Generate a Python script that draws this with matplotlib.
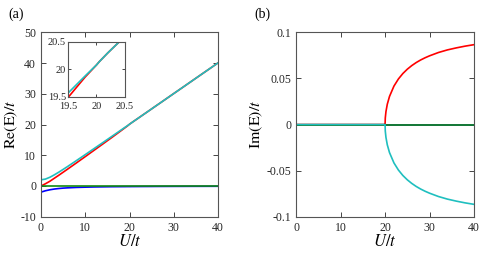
import numpy as np
import matplotlib
matplotlib.use('Agg')
import matplotlib.pyplot as plt

plt.rcParams['font.family'] = ['Liberation Serif', 'DejaVu Serif']
plt.rcParams['mathtext.fontset'] = 'stix'
plt.rcParams['axes.unicode_minus'] = False

# U/t 取样点
U = [0, 1, 2, 3, 4, 5, 6, 8, 10, 12, 14, 16, 18, 19, 19.5, 19.8, 20,
     20.05, 20.2, 20.5, 21, 22, 23, 24, 25, 26, 27, 28, 29, 30, 32, 34, 36, 38, 40]

# 实部
re_cyan = [2.0, 2.24, 2.83, 3.61, 4.47, 5.39, 6.32, 8.25, 10.2, 12.17, 14.14, 16.12,
           18.11, 19.1, 19.57, 19.88, 20.08,
           20.14, 20.3, 20.6, 21.1, 22.09, 23.09, 24.08, 25.08, 26.08, 27.07, 28.07,
           29.07, 30.07, 32.06, 34.06, 36.06, 38.05, 40.05]
re_red = [0.0, 0.72, 1.53, 2.5, 3.47, 4.47, 5.47, 7.5, 9.55, 11.62, 13.69, 15.77,
          17.89, 18.96, 19.49, 19.86, 20.08,
          20.14, 20.3, 20.6, 21.1, 22.09, 23.09, 24.08, 25.08, 26.08, 27.07, 28.07,
          29.07, 30.07, 32.06, 34.06, 36.06, 38.05, 40.05]
re_blue = [-2.0, -1.56, -1.24, -1.0, -0.83, -0.70, -0.61, -0.47, -0.39, -0.32, -0.28, -0.24,
           -0.22, -0.21, -0.2, -0.2, -0.2,
           -0.2, -0.2, -0.19, -0.19, -0.18, -0.17, -0.165, -0.16, -0.15, -0.145, -0.14,
           -0.135, -0.13, -0.125, -0.115, -0.11, -0.105, -0.1]
re_green = [0.0] * len(U)

# 虚部
im_red = [0, 0, 0, 0, 0, 0, 0, 0, 0, 0, 0, 0, 0, 0, 0, 0, 0,
          0.0071, 0.014, 0.022, 0.0305, 0.0417, 0.0494, 0.0553, 0.06, 0.0639, 0.0672,
          0.07, 0.0724, 0.0745, 0.0781, 0.0809, 0.0831, 0.085, 0.0866]
im_cyan = [-v for v in im_red]
im_blue = [0.0] * len(U)
im_green = [0.0] * len(U)

c_blue = '#0000ff'
c_red = '#ff0000'
c_green = '#128a12'
c_cyan = '#1fbfbf'
lw = 1.2


def style(ax, size=8.5):
    ax.tick_params(direction='in', top=True, right=True, length=3.5, width=0.6,
                   labelsize=size, colors='#262626')
    for s in ax.spines.values():
        s.set_color('#555555')
        s.set_linewidth(0.8)


fig = plt.figure(figsize=(4.91, 2.56), dpi=100)

# (a) 实部
ax1 = fig.add_axes([0.0835, 0.1535, 0.3605, 0.7203])
ax1.plot(U, re_blue, color=c_blue, lw=lw)
ax1.plot(U, re_red, color=c_red, lw=lw)
ax1.plot(U, re_green, color=c_green, lw=lw)
ax1.plot(U, re_cyan, color=c_cyan, lw=lw)
ax1.set_xlim(0, 40)
ax1.set_ylim(-10, 50)
ax1.set_xticks([0, 10, 20, 30, 40])
ax1.set_yticks([-10, 0, 10, 20, 30, 40, 50])
ax1.set_xlabel(r'$U/t$', fontsize=12, labelpad=0)
ax1.set_ylabel(r'$\mathrm{Re(E)}/t$', fontsize=11.5, labelpad=0)
style(ax1)

# 插图
axin = fig.add_axes([0.139, 0.6223, 0.115, 0.2137])
axin.plot(U, re_blue, color=c_blue, lw=lw)
axin.plot(U, re_red, color=c_red, lw=lw)
axin.plot(U, re_green, color=c_green, lw=lw)
axin.plot(U, re_cyan, color=c_cyan, lw=lw)
axin.set_xlim(19.5, 20.5)
axin.set_ylim(19.5, 20.5)
axin.set_xticks([19.5, 20, 20.5])
axin.set_yticks([19.5, 20, 20.5])
axin.set_xticklabels(['19.5', '20', '20.5'])
axin.set_yticklabels(['19.5', '20', '20.5'])
style(axin, size=7.5)
axin.tick_params(length=2.5)
axin.tick_params(axis='x', pad=4)
axin.tick_params(axis='y', pad=1.5)

# (b) 虚部
ax2 = fig.add_axes([0.603, 0.1535, 0.3625, 0.7203])
ax2.plot(U, im_blue, color=c_blue, lw=lw)
ax2.plot(U, im_red, color=c_red, lw=lw)
ax2.plot(U, im_green, color=c_green, lw=lw)
ax2.plot(U, im_cyan, color=c_cyan, lw=lw)
ax2.set_xlim(0, 40)
ax2.set_ylim(-0.1, 0.1)
ax2.set_xticks([0, 10, 20, 30, 40])
ax2.set_yticks([-0.1, -0.05, 0, 0.05, 0.1])
ax2.set_yticklabels(['-0.1', '-0.05', '0', '0.05', '0.1'])
ax2.set_xlabel(r'$U/t$', fontsize=12, labelpad=0)
ax2.set_ylabel(r'$\mathrm{Im(E)}/t$', fontsize=11.5, labelpad=1)
style(ax2)

fig.text(0.018, 0.945, '(a)', fontsize=10, va='center')
fig.text(0.519, 0.945, '(b)', fontsize=10, va='center')

fig.savefig('out.png', dpi=100)
